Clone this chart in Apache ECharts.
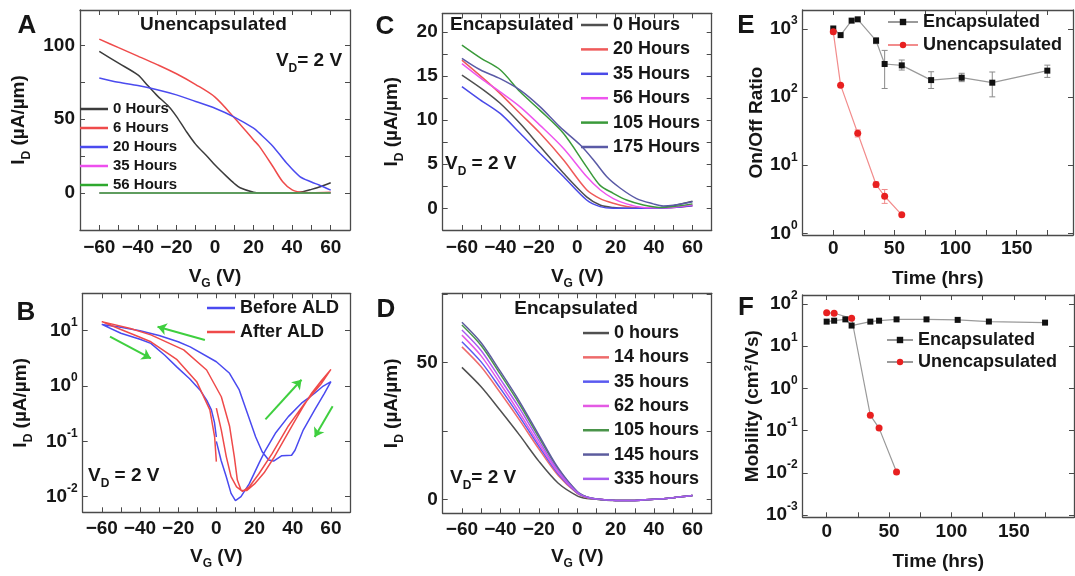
<!DOCTYPE html>
<html><head><meta charset="utf-8">
<script src="https://cdn.jsdelivr.net/npm/echarts@6/dist/echarts.min.js"></script>
<style>html,body{margin:0;padding:0;background:#fff}#c{width:1075px;height:576px}</style>
</head><body><div id="c"></div>
<script>
// ================= DATA =================
// Panel A (Unencapsulated, I_D vs V_G, linear)
const A_VG_0H  = [-60,-50,-40,-35,-30,-24,-20,-15,-10,-4,0,6,10,13,20,25,30,40,46,50,55,60];
const A_ID_0H  = [96,88,80,73,66,58.7,52,42,33,24.8,19,11.3,6.5,3.6,0.6,0,0,0,1.1,2.5,4.5,7];
const A_VG_6H  = [-60,-50,-40,-30,-20,-10,0,10,20,23,30,35,40,46,50,60];
const A_ID_6H  = [104.3,98.5,92.8,87,80.8,73.5,65,51,36,31.6,18,7.9,2.2,0.4,0.3,0.6];
const A_VG_20H = [-60,-50,-40,-30,-20,-10,0,10,20,23,30,37,44,50,54,60];
const A_ID_20H = [78,75,72.8,70,66.5,62,57.5,51.5,44,40.6,31.8,20.5,11.2,7.5,5.5,2];
const A_VG_35H = [-60,60];
const A_ID_35H = [0,0];
const A_VG_56H = [-60,60];
const A_ID_56H = [0,0];
const A_NAMES  = ['0 Hours','6 Hours','20 Hours','35 Hours','56 Hours'];

// Panel B (hysteresis, log): sweep 0 -> 60 -> -60 -> 0
const B_VG_BEFORE = [0,2.5,5.2,7.7,10,12.9,17.2,22.3,25.7,30.9,37.7,44.6,51.5,56,60,56.6,51.5,45.5,41.2,39.4,34.3,30,27.4,24,20.6,16.3,12,6.9,0,-13.7,-20,-30,-40,-50,-60,-50,-40,-34.3,-27,-20.6,-14,-8.6,-5,-2.6,-1,0];
const B_ID_BEFORE = [0.1,0.045,0.023,0.0115,0.0085,0.01,0.017,0.04,0.069,0.14,0.28,0.49,0.74,1.0,1.2,0.74,0.37,0.16,0.069,0.056,0.055,0.044,0.046,0.065,0.12,0.32,0.85,1.7,2.75,5.1,6.3,8.2,10,11.5,13,9,7,5.9,3.6,2.2,1.35,0.85,0.55,0.37,0.22,0.12];
const B_VG_AFTER  = [0,2.6,5.2,7.7,10.6,13.7,17.2,22.3,29.2,37.7,46.3,54.9,60,55,50,45,40,35,30,25,20,16,13,11,9.4,6.9,2.6,-5.1,-17.1,-34.3,-45,-60,-50,-40,-34.3,-20.6,-10.3,-3.4,-0.9,0];
const B_ID_AFTER  = [0.4,0.16,0.053,0.023,0.015,0.0125,0.015,0.026,0.06,0.19,0.49,1.1,2.0,1.25,0.75,0.4,0.2,0.1,0.05,0.027,0.017,0.013,0.013,0.02,0.053,0.19,0.64,1.95,4.5,8.4,11,14.6,10.5,7.6,6.3,3.0,1.2,0.37,0.12,0.043];
const B_NAMES = ['Before ALD','After ALD'];
// sweep-direction arrows [x1,y1,x2,y2] (head at x2,y2)
const B_ARROWS = [[-6,6.8,-30.8,11.8],[-55.7,7.8,-34.3,3.16],[25.7,0.25,44.6,1.3],[60.9,0.43,51.5,0.12]];

// Panel C (Encapsulated)
const C_VG_0H   = [-60,-48.7,-40.1,-29.7,-19.3,-7.2,4.9,11.9,18.8,25,40,50,60];
const C_ID_0H   = [15.1,13.4,11.9,9.6,7.0,4.0,1.3,0.38,0.08,0,0,0.3,0.8];
const C_VG_20H  = [-60,-48.7,-40.1,-29.7,-19.3,-7.2,4.9,11.9,18.8,25.7,34,50,60];
const C_ID_20H  = [16.8,14.7,13.0,10.75,8.5,5.5,2.1,1.1,0.57,0.2,0,0.1,0.3];
const C_VG_35H  = [-60,-50.5,-40.1,-29.7,-19.3,-7.2,4.9,11.9,18.8,40,50,60];
const C_ID_35H  = [13.8,12.3,10.75,8.5,6.2,3.6,0.94,0.19,0,0,0.1,0.3];
const C_VG_56H  = [-60,-48.7,-40.1,-29.7,-19.3,-7.2,4.9,11.9,18.8,25.7,34.4,45,60];
const C_ID_56H  = [16.4,14.5,13.2,11.5,9.4,6.8,3.6,2.1,1.1,0.5,0.1,0.05,0.4];
const C_VG_105H = [-60,-50,-40.1,-29.7,-19.3,-7.2,4.9,11.9,18.8,25.7,34.4,43,50,60];
const C_ID_105H = [18.5,17.0,15.7,13.2,11.1,8.5,4.7,2.6,1.7,0.94,0.38,0.1,0.2,0.5];
const C_VG_175H = [-60,-50.5,-40.1,-29.7,-19.3,-8.9,1.5,8.4,15.3,22.3,30.9,39.6,44.8,50,60];
const C_ID_175H = [17.0,15.7,14.7,13.4,11.5,9.2,7.2,5.5,3.6,2.3,1.1,0.5,0.26,0.35,0.75];
const C_NAMES = ['0 Hours','20 Hours','35 Hours','56 Hours','105 Hours','175 Hours'];

// Panel D (Encapsulated)
const D_VG      = [-60,-50,-40,-30,-20,-10,0,5,10,15,20,30,40,50,60];
const D_ID_0H   = [48.3,41.2,32.5,23.5,14,6,1.3,0.3,0,-0.3,-0.4,-0.4,0,0.6,1.4];
const D_ID_14H  = [55.8,48.5,39,29,18.5,8.8,2.2,0.7,0.1,-0.2,-0.4,-0.4,0,0.6,1.4];
const D_ID_35H  = [57.7,50.3,40.6,30.3,19.5,9.4,2.4,0.8,0.1,-0.2,-0.4,-0.4,0,0.6,1.4];
const D_ID_62H  = [60.1,52.5,42.3,31.6,20.4,9.9,2.5,0.8,0.1,-0.2,-0.4,-0.4,0,0.6,1.4];
const D_ID_105H = [63.8,56.3,45.8,34.8,22.8,11.2,2.8,0.9,0.1,-0.2,-0.4,-0.4,0,0.6,1.4];
const D_ID_145H = [64.8,57.3,46.8,35.8,23.6,11.6,2.9,0.9,0.1,-0.2,-0.4,-0.4,0,0.6,1.4];
const D_ID_335H = [62,54.5,44,33.3,21.6,10.6,2.6,0.85,0.1,-0.2,-0.4,-0.4,0,0.6,1.4];
const D_NAMES = ['0 hours','14 hours','35 hours','62 hours','105 hours','145 hours','335 hours'];

// Panel E (On/Off ratio vs time)
const E_T_ENC = [0,6,15,20,35,42,56,80,105,130,175];
const E_ENC   = [1020,815,1330,1390,675,307,293,178,193,163,245];
const E_T_UN  = [0,6,20,35,42,56];
const E_UN    = [910,150,29.5,5.2,3.5,1.87];
const E_ERR_ENC_T  = [35,42,56,80,105,130,175];
const E_ERR_ENC_LO = [610,134,250,134,169,101,195];
const E_ERR_ENC_HI = [750,486,351,236,224,234,295];
const E_ERR_UN_T   = [20,35,42];
const E_ERR_UN_LO  = [26,4.7,2.75];
const E_ERR_UN_HI  = [33,5.7,4.4];

// Panel F (Mobility vs time)
const F_T_ENC = [0,6,15,20,35,42,56,80,105,130,175];
const F_ENC   = [38,40,43,30.7,38,40,43,43,41.8,38.2,36];
const F_T_UN  = [0,6,20,35,42,56];
const F_UN    = [62,60,45.7,0.23,0.115,0.0105];
const EF_NAMES = ['Encapsulated','Unencapsulated'];

// Tick / label values
const VG_TICKS  = [-60,-50,-40,-30,-20,-10,0,10,20,30,40,50,60];
const VG_LABELS = [-60,-40,-20,0,20,40,60];
const A_Y_TICKS = [0,25,50,75,100];
const A_Y_LABELS = [0,50,100];
const C_Y_TICKS = [0,2.5,5,7.5,10,12.5,15,17.5,20];
const C_Y_LABELS = [0,5,10,15,20];
const D_Y_TICKS = [0,25,50,75];
const D_Y_LABELS = [0,50];
const T_TICKS = [0,25,50,75,100,125,150,175];
const T_LABELS = [0,50,100,150];

// ================= BUILD =================
const FONT = '"Liberation Sans", Arial, Helvetica, sans-serif';
const TXT = '#161616';
const AXC = '#4a4a4a';
const zip = (xs, ys) => xs.map((x, i) => [x, ys[i]]);
const zip3 = (a, b, c) => a.map((x, i) => [x, b[i], c[i]]);
const minusFmt = v => (v < 0 ? '\u2212' + (-v) : String(v));
const logFmt = v => { const e = Math.log10(v), r = Math.round(e); if (Math.abs(e - r) > 1e-6) return ''; return '{b|10}{p|' + r + '}'; };
const LOG_RICH = {
  b: {fontFamily: FONT, fontSize: 19, fontWeight: 'bold', color: TXT, lineHeight: 28, verticalAlign: 'middle'},
  p: {fontFamily: FONT, fontSize: 12, fontWeight: 'bold', color: TXT, lineHeight: 22, verticalAlign: 'top'}
};
const SUB_RICH = {
  m: {fontFamily: FONT, fontSize: 19, fontWeight: 'bold', color: TXT, lineHeight: 22},
  s: {fontFamily: FONT, fontSize: 12, fontWeight: 'bold', color: TXT, lineHeight: 27, verticalAlign: 'bottom'}
};
const G_RICH = {
  m: {fontFamily: FONT, fontSize: 19, fontWeight: 'bold', fill: TXT, lineHeight: 22},
  s: {fontFamily: FONT, fontSize: 12, fontWeight: 'bold', fill: TXT, lineHeight: 27, verticalAlign: 'bottom'}
};

const grids = [
  {left: 80,    top: 10,    width: 270,   height: 220},
  {left: 82.7,  top: 293.3, width: 267.3, height: 219},
  {left: 442.7, top: 13.3,  width: 269,   height: 216.7},
  {left: 442.7, top: 293.3, width: 269,   height: 220},
  {left: 802.7, top: 10,    width: 270.3, height: 225},
  {left: 802.7, top: 295,   width: 271.3, height: 222.3}
].map(g => Object.assign({outerBoundsMode: 'none', containLabel: false}, g));

const XNAME_VG = '{m|V}{s|G}{m| (V)}';
const YNAME_ID = '{m|I}{s|D}{m| (\u00b5A/\u00b5m)}';
const xDefs = [
  {min: -70, max: 70, ticks: VG_TICKS, labels: VG_LABELS, name: XNAME_VG, gap: 33, margin: 8},
  {min: -70, max: 70, ticks: VG_TICKS, labels: VG_LABELS, name: XNAME_VG, gap: 30.5, margin: 7},
  {min: -70, max: 70, ticks: VG_TICKS, labels: VG_LABELS, name: XNAME_VG, gap: 33, margin: 8},
  {min: -70, max: 70, ticks: VG_TICKS, labels: VG_LABELS, name: XNAME_VG, gap: 29.5, margin: 7},
  {min: -25, max: 196, ticks: T_TICKS, labels: T_LABELS, name: 'Time (hrs)', gap: 34, margin: 4},
  {min: -19.2, max: 198.2, ticks: T_TICKS, labels: T_LABELS, name: 'Time (hrs)', gap: 34.5, margin: 5}
];
const yDefs = [
  {min: -25, max: 124, ticks: A_Y_TICKS, labels: A_Y_LABELS, name: YNAME_ID, gap: 47.5},
  {type: 'log', min: Math.pow(10, -2.282), max: Math.pow(10, 1.676), name: YNAME_ID, gap: 48},
  {min: -2.46, max: 22.1, ticks: C_Y_TICKS, labels: C_Y_LABELS, name: YNAME_ID, gap: 37},
  {min: -5.1, max: 75.4, ticks: D_Y_TICKS, labels: D_Y_LABELS, name: YNAME_ID, gap: 37},
  {type: 'log', min: Math.pow(10, -0.025), max: Math.pow(10, 3.28), name: 'On/Off Ratio', gap: 34.7},
  {type: 'log', min: Math.pow(10, -3.05), max: Math.pow(10, 2.21), name: 'Mobility (cm\u00b2/Vs)', gap: 38.7}
];

function mkAxis(d, gi, dim, mirror) {
  const isLog = d.type === 'log';
  const ax = {
    type: isLog ? 'log' : 'value', logBase: 10, gridIndex: gi,
    position: dim === 'x' ? (mirror ? 'top' : 'bottom') : (mirror ? 'right' : 'left'),
    min: d.min, max: d.max,
    name: mirror ? '' : d.name, nameLocation: 'middle', nameGap: d.gap,
    nameTextStyle: {fontFamily: FONT, fontSize: 19, fontWeight: 'bold', color: TXT, rich: SUB_RICH},
    axisLine: {show: true, onZero: false, lineStyle: {color: AXC, width: 1.3}},
    axisTick: {show: true, inside: true, length: 5, lineStyle: {color: AXC, width: 1}},
    axisLabel: {show: !mirror, margin: dim === 'x' ? d.margin : 5, fontFamily: FONT, fontSize: 19, fontWeight: 'bold', color: TXT},
    splitLine: {show: false}, minorTick: {show: false}
  };
  if (isLog) {
    ax.axisLabel.formatter = logFmt;
    ax.axisLabel.rich = LOG_RICH;
  } else {
    ax.axisTick.customValues = d.ticks;
    ax.axisLabel.customValues = d.labels;
    ax.axisLabel.formatter = minusFmt;
  }
  return ax;
}
const xAxis = [], yAxis = [];
for (let i = 0; i < 6; i++) { xAxis.push(mkAxis(xDefs[i], i, 'x', false)); yAxis.push(mkAxis(yDefs[i], i, 'y', false)); }
for (let i = 0; i < 6; i++) { xAxis.push(mkAxis(xDefs[i], i, 'x', true)); yAxis.push(mkAxis(yDefs[i], i, 'y', true)); }

function curve(panel, name, gi, xs, ys, color, smooth) {
  return {type: 'line', name: panel + '|' + name, xAxisIndex: gi, yAxisIndex: gi, data: zip(xs, ys),
    symbol: 'none', smooth: smooth, lineStyle: {color: color, width: 1.5}, itemStyle: {color: color},
    silent: true, clip: true, z: 3};
}
const series = [
  curve('A', A_NAMES[0], 0, A_VG_0H, A_ID_0H, '#3c3c3c', 0.3),
  curve('A', A_NAMES[1], 0, A_VG_6H, A_ID_6H, '#ef4b4b', 0.3),
  curve('A', A_NAMES[2], 0, A_VG_20H, A_ID_20H, '#4b4bef', 0.3),
  curve('A', A_NAMES[3], 0, A_VG_35H, A_ID_35H, '#ee4fee', false),
  curve('A', A_NAMES[4], 0, A_VG_56H, A_ID_56H, '#2ea82e', false),
  curve('B', B_NAMES[0], 1, B_VG_BEFORE, B_ID_BEFORE, '#4a4af0', false),
  curve('B', B_NAMES[1], 1, B_VG_AFTER, B_ID_AFTER, '#ef4a4a', false),
  curve('C', C_NAMES[0], 2, C_VG_0H, C_ID_0H, '#505050', 0.3),
  curve('C', C_NAMES[1], 2, C_VG_20H, C_ID_20H, '#ef5a5a', 0.3),
  curve('C', C_NAMES[2], 2, C_VG_35H, C_ID_35H, '#4a4ae8', 0.3),
  curve('C', C_NAMES[3], 2, C_VG_56H, C_ID_56H, '#ee55ee', 0.3),
  curve('C', C_NAMES[4], 2, C_VG_105H, C_ID_105H, '#3a9a3a', 0.3),
  curve('C', C_NAMES[5], 2, C_VG_175H, C_ID_175H, '#5a5aa6', 0.3),
  curve('D', D_NAMES[0], 3, D_VG, D_ID_0H, '#505050', 0.3),
  curve('D', D_NAMES[1], 3, D_VG, D_ID_14H, '#ee6b6b', 0.3),
  curve('D', D_NAMES[2], 3, D_VG, D_ID_35H, '#5a5af0', 0.3),
  curve('D', D_NAMES[3], 3, D_VG, D_ID_62H, '#e45ae4', 0.3),
  curve('D', D_NAMES[4], 3, D_VG, D_ID_105H, '#4a944a', 0.3),
  curve('D', D_NAMES[5], 3, D_VG, D_ID_145H, '#5c5c9e', 0.3),
  curve('D', D_NAMES[6], 3, D_VG, D_ID_335H, '#a95cf0', 0.3)
];
// arrows in panel B
series[5].markLine = {
  silent: true, symbol: ['none', 'arrow'], symbolSize: 9, animation: false,
  label: {show: false}, emphasis: {disabled: true},
  lineStyle: {color: '#3fcf3f', width: 2, type: 'solid'},
  data: B_ARROWS.map(a => [{coord: [a[0], a[1]]}, {coord: [a[2], a[3]]}])
};

function errBars(name, gi, data, color) {
  return {type: 'custom', name: name, xAxisIndex: gi, yAxisIndex: gi, data: data, silent: true, z: 2,
    encode: {x: 0, y: [1, 2]},
    renderItem: (params, api) => {
      const x = api.value(0);
      const p1 = api.coord([x, api.value(1)]), p2 = api.coord([x, api.value(2)]);
      const w = 3, st = {stroke: color, lineWidth: 1};
      return {type: 'group', children: [
        {type: 'line', shape: {x1: p1[0], y1: p1[1], x2: p2[0], y2: p2[1]}, style: st},
        {type: 'line', shape: {x1: p1[0] - w, y1: p1[1], x2: p1[0] + w, y2: p1[1]}, style: st},
        {type: 'line', shape: {x1: p2[0] - w, y1: p2[1], x2: p2[0] + w, y2: p2[1]}, style: st}
      ]};
    }};
}
function pts(panel, name, gi, xs, ys, sym, size, color, lineColor) {
  return {type: 'line', name: panel + '|' + name, xAxisIndex: gi, yAxisIndex: gi, data: zip(xs, ys),
    symbol: sym, symbolSize: size, showSymbol: true, itemStyle: {color: color},
    lineStyle: {color: lineColor, width: 1.2}, silent: true, z: 3};
}
series.push(errBars('E|errEnc', 4, zip3(E_ERR_ENC_T, E_ERR_ENC_LO, E_ERR_ENC_HI), '#8a8a8a'));
series.push(errBars('E|errUn', 4, zip3(E_ERR_UN_T, E_ERR_UN_LO, E_ERR_UN_HI), '#f08a8a'));
series.push(pts('E', EF_NAMES[0], 4, E_T_ENC, E_ENC, 'rect', 6, '#111', '#9a9a9a'));
series.push(pts('E', EF_NAMES[1], 4, E_T_UN, E_UN, 'circle', 7, '#e82020', '#f28c8c'));
series.push(pts('F', EF_NAMES[0], 5, F_T_ENC, F_ENC, 'rect', 6, '#111', '#9a9a9a'));
series.push(pts('F', EF_NAMES[1], 5, F_T_UN, F_UN, 'circle', 7, '#e82020', '#9a9a9a'));

function legend(panel, names, left, top, lh, fs, iw, icon) {
  const l = {orient: 'vertical', left: left, top: top, padding: 0, itemGap: 0, itemWidth: iw,
    selectedMode: false, data: names.map(n => panel + '|' + n),
    formatter: n => n.split('|')[1],
    textStyle: {fontFamily: FONT, fontSize: fs, fontWeight: 'bold', color: TXT, lineHeight: lh}};
  if (icon) { l.icon = 'rect'; l.itemHeight = 2.5; } else { l.itemHeight = 8; }
  return l;
}
const legends = [
  legend('A', A_NAMES, 80, 99.5, 19, 15, 28, true),
  legend('B', B_NAMES, 207, 296, 24, 18, 28, true),
  legend('C', C_NAMES, 581, 12.8, 24.4, 18, 27, true),
  legend('D', D_NAMES, 583, 320.9, 24.3, 18, 26, true),
  legend('E', EF_NAMES, 887, 10.5, 23, 18, 30, false),
  legend('F', EF_NAMES, 886, 329, 22, 18, 26, false)
];

function gtext(x, y, text, size, align) {
  return {type: 'text', x: x, y: y, silent: true, z: 10,
    style: {text: text, fontFamily: FONT, fontSize: size, fontWeight: 'bold', fill: TXT, align: align || 'center', verticalAlign: 'middle', rich: G_RICH}};
}
const VD = '{m|V}{s|D}{m|= 2 V}';
const VD2 = '{m|V}{s|D}{m| = 2 V}';
const graphic = [
  gtext(27, 26, 'A', 26), gtext(26, 313, 'B', 26), gtext(385, 27, 'C', 26),
  gtext(386, 310, 'D', 26), gtext(746, 26, 'E', 26), gtext(746, 308, 'F', 26),
  gtext(213.5, 25, 'Unencapsulated', 19),
  gtext(309, 61, VD, 19),
  gtext(88, 476, VD2, 19, 'left'),
  gtext(450, 25, 'Encapsulated', 19, 'left'),
  gtext(445, 164, VD2, 19, 'left'),
  gtext(576, 309, 'Encapsulated', 19),
  gtext(450, 478, VD, 19, 'left')
];

const chart = echarts.init(document.getElementById('c'), null, {renderer: 'canvas'});
chart.setOption({
  animation: false, backgroundColor: '#fff',
  grid: grids, xAxis: xAxis, yAxis: yAxis, legend: legends, series: series, graphic: graphic
});
</script></body></html>
